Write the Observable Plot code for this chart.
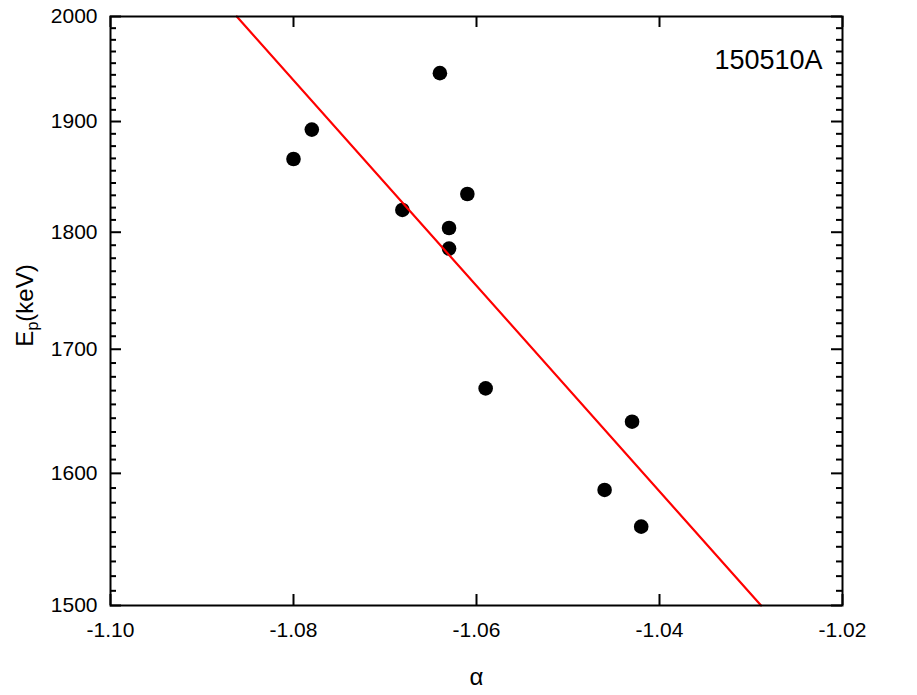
<!DOCTYPE html>
<html>
<head>
<meta charset="utf-8">
<script src="https://cdn.jsdelivr.net/npm/d3@7"></script>
<script src="https://cdn.jsdelivr.net/npm/@observablehq/plot@0.6"></script>
<style>
  html, body { margin: 0; padding: 0; background: #fff; }
</style>
</head>
<body>
<div id="chart"></div>
<script>
const alpha = [-1.0800, -1.0780, -1.0681, -1.0640, -1.0630, -1.0630, -1.0610, -1.0590, -1.0460, -1.0430, -1.0420];
const ep    = [1865.5, 1892.5, 1819.7, 1945.4, 1803.7, 1785.7, 1833.9, 1667.8, 1587.1, 1640.9, 1558.9];
const fitAlpha = [-1.0862, -1.0289];
const fitEp = [2000, 1500];
const xTicks = [-1.10, -1.08, -1.06, -1.04, -1.02];
const yTicks = [1500, 1600, 1700, 1800, 1900, 2000];
const grbName = "150510A";
const xLabel = "α";

const points = alpha.map((a, i) => ({a, e: ep[i]}));
const fit = fitAlpha.map((a, i) => ({a, e: fitEp[i]}));
const yMinor = [];
for (let i = 0; i < yTicks.length - 1; i++) {
  const lo = yTicks[i], hi = yTicks[i + 1];
  for (let k = 1; k <= 8; k++) yMinor.push(lo * Math.pow(hi / lo, k / 9));
}

const W = 917, H = 695, mL = 110, mR = 75, mT = 16, mB = 90;
const fw = W - mL - mR, fh = H - mT - mB;
const major = 11, minor = 6;

const chart = Plot.plot({
  width: W, height: H,
  marginLeft: mL, marginRight: mR, marginTop: mT, marginBottom: mB,
  style: {fontFamily: "'Liberation Sans', Arial, sans-serif", fontSize: "21px", color: "black", background: "white"},
  x: {domain: [-1.10, -1.02]},
  y: {type: "log", domain: [1500, 2000]},
  marks: [
    Plot.axisX({ticks: xTicks, tickSize: 0, tickPadding: 17, tickFormat: d => d.toFixed(2), fontSize: 21, label: null}),
    Plot.axisY({ticks: yTicks, tickSize: 0, tickPadding: 13, tickFormat: d => String(d), fontSize: 21, label: null}),
    Plot.tickX(xTicks, {x: d => d, insetTop: fh - major, stroke: "black", strokeWidth: 2}),
    Plot.tickX(xTicks, {x: d => d, insetBottom: fh - major, stroke: "black", strokeWidth: 2}),
    Plot.tickY(yTicks, {y: d => d, insetRight: fw - major, stroke: "black", strokeWidth: 2}),
    Plot.tickY(yTicks, {y: d => d, insetLeft: fw - major, stroke: "black", strokeWidth: 2}),
    Plot.tickY(yMinor, {y: d => d, insetRight: fw - minor, stroke: "black", strokeWidth: 2}),
    Plot.tickY(yMinor, {y: d => d, insetLeft: fw - minor, stroke: "black", strokeWidth: 2}),
    Plot.dot(points, {x: "a", y: "e", r: 7.3, fill: "black", stroke: "none"}),
    Plot.line(fit, {x: "a", y: "e", stroke: "#ff0000", strokeWidth: 2.2}),
    Plot.frame({stroke: "black", strokeWidth: 2}),
    Plot.text([grbName], {text: d => d, frameAnchor: "top-right", dx: -20, dy: 52, textAnchor: "end", lineAnchor: "bottom", fontSize: 27, fill: "black"}),
    Plot.text([xLabel], {text: d => d, frameAnchor: "bottom", dy: 72, lineAnchor: "middle", fontSize: 24, fill: "black"})
  ]
});
document.getElementById("chart").appendChild(chart);

// y-axis title with subscript
const svg = d3.select(chart);
const t = svg.append("text")
  .attr("transform", `translate(33, ${mT + fh / 2 - 5}) rotate(-90)`)
  .attr("text-anchor", "middle")
  .attr("font-size", 24)
  .attr("fill", "black")
  .attr("font-family", "'Liberation Sans', Arial, sans-serif");
t.append("tspan").text("E");
t.append("tspan").attr("font-size", 16).attr("dy", 5).text("p");
t.append("tspan").attr("dy", -5).text("(keV)");
</script>
</body>
</html>
